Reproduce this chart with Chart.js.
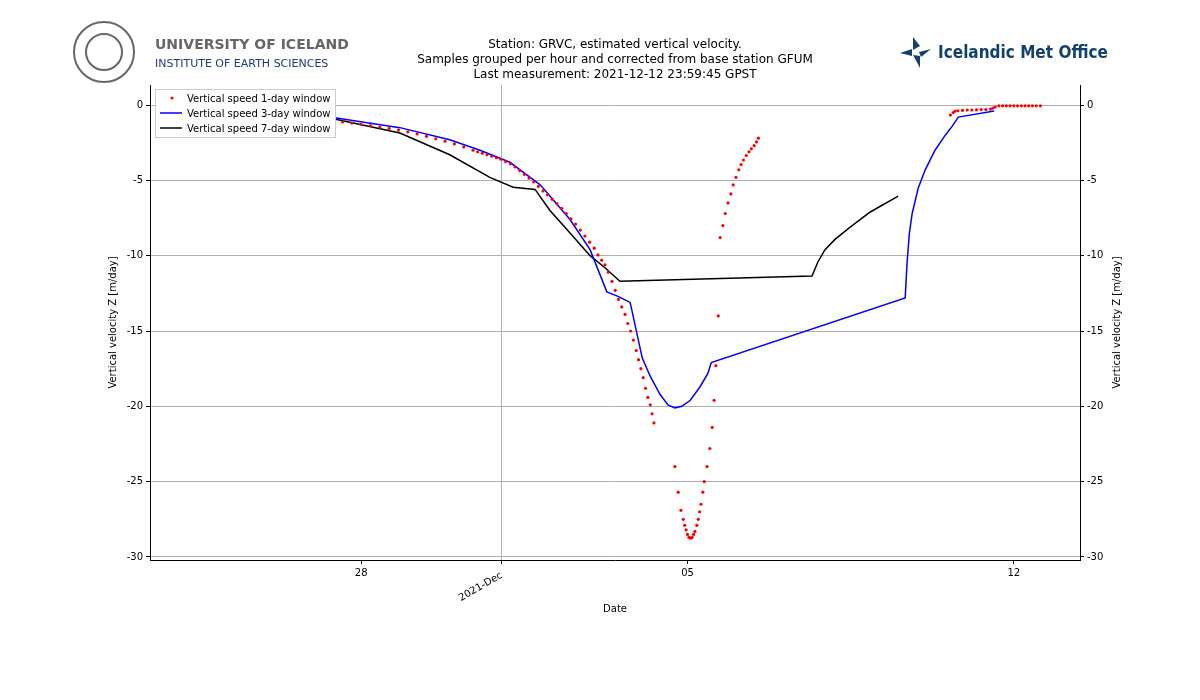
<!DOCTYPE html>
<html>
<head>
<meta charset="utf-8">
<script src="https://cdn.jsdelivr.net/npm/chart.js@4"></script>
<style>
  body { margin: 0; background: #fff; }
  #wrap { width: 1200px; height: 700px; }
</style>
</head>
<body>
<div id="wrap"><canvas id="velChart" width="1200" height="700"></canvas></div>
<script>
// x = days since 2021-12-01 00:00, y = vertical velocity [m/day]
const day1X = [-5.4, -5.2, -5.0, -4.8, -4.6, -4.4, -4.2, -4.0, -3.8, -3.6, -3.4, -3.2, -3.0, -2.8, -2.6, -2.4, -2.2, -2.0, -1.8, -1.6, -1.4, -1.2, -1.0, -0.8,
  -0.6, -0.5, -0.4, -0.3, -0.2, -0.1, 0.0, 0.1, 0.2, 0.3, 0.4, 0.5, 0.6, 0.7, 0.8, 0.9, 1.0, 1.1, 1.2, 1.3, 1.4, 1.5, 1.6, 1.7, 1.8, 1.9, 2.0,
  2.08, 2.16, 2.23, 2.3, 2.38, 2.45, 2.52, 2.59, 2.66, 2.72, 2.78, 2.84, 2.9, 2.95, 3.0, 3.05, 3.1, 3.15, 3.2, 3.24, 3.28,
  3.73, 3.80, 3.86, 3.91, 3.94, 3.97, 4.00, 4.03, 4.07, 4.10, 4.13, 4.16, 4.20, 4.23, 4.26, 4.29, 4.33, 4.36, 4.42, 4.48, 4.53, 4.57, 4.61, 4.66,
  4.70, 4.76, 4.81, 4.87, 4.93, 4.98, 5.04, 5.1, 5.15, 5.2, 5.26, 5.32, 5.37, 5.43, 5.48, 5.52,
  9.64, 9.7, 9.74, 9.8, 9.9, 10.0, 10.1, 10.2, 10.3, 10.4, 10.5, 10.55, 10.6, 10.68, 10.76, 10.84, 10.92, 11.0, 11.08, 11.16, 11.24, 11.32, 11.4, 11.48, 11.57];
const day1Y = [-0.5, -0.55, -0.6, -0.65, -0.7, -0.75, -0.8, -0.86, -0.95, -1.05, -1.12, -1.2, -1.28, -1.37, -1.46, -1.55, -1.66, -1.78, -1.92, -2.08, -2.24, -2.4, -2.58, -2.78,
  -3.0, -3.1, -3.2, -3.3, -3.4, -3.5, -3.6, -3.75, -3.9, -4.1, -4.35, -4.6, -4.85, -5.1, -5.4, -5.7, -5.95, -6.25, -6.55, -6.85, -7.2, -7.55, -7.9, -8.3, -8.7, -9.1, -9.5,
  -9.95, -10.3, -10.6, -11.1, -11.7, -12.3, -12.9, -13.4, -13.9, -14.5, -15.0, -15.6, -16.3, -16.9, -17.5, -18.1, -18.8, -19.4, -19.9, -20.5, -21.1,
  -24.0, -25.7, -26.9, -27.5, -27.9, -28.2, -28.5, -28.7, -28.75, -28.7, -28.5, -28.3, -27.9, -27.5, -27.0, -26.5, -25.7, -25.0, -24.0, -22.8, -21.4, -19.6, -17.3, -14.0,
  -8.8, -8.0, -7.2, -6.5, -5.9, -5.3, -4.8, -4.3, -3.95, -3.65, -3.35, -3.1, -2.9, -2.7, -2.45, -2.2,
  -0.66, -0.5, -0.4, -0.38, -0.35, -0.33, -0.33, -0.32, -0.3, -0.3, -0.27, -0.2, -0.13, -0.05, -0.05, -0.05, -0.05, -0.05, -0.05, -0.05, -0.05, -0.05, -0.05, -0.05, -0.05];

const day3X = [-5.4, -3.67, -2.17, -1.1, -0.45, 0.19, 0.84, 1.48, 1.91, 2.27, 2.51, 2.77, 3.03, 3.20, 3.41, 3.58, 3.73, 3.88, 4.06, 4.27, 4.44, 4.51,
  8.67, 8.71, 8.76, 8.82, 8.95, 9.10, 9.31, 9.53, 9.68, 9.81, 10.58];
const day3Y = [-0.6, -0.8, -1.5, -2.3, -3.0, -3.8, -5.3, -7.6, -9.6, -12.4, -12.7, -13.1, -16.8, -18.0, -19.2, -19.9, -20.1, -20.0, -19.6, -18.7, -17.8, -17.1,
  -12.8, -10.5, -8.5, -7.2, -5.5, -4.3, -3.0, -2.0, -1.4, -0.8, -0.4];

const day7X = [-5.4, -3.67, -2.17, -1.1, -0.24, 0.26, 0.73, 1.05, 1.48, 1.91, 2.23, 2.55, 6.67, 6.80, 6.95, 7.17, 7.49, 7.92, 8.52];
const day7Y = [-0.6, -0.86, -1.86, -3.3, -4.8, -5.45, -5.6, -7.0, -8.5, -10.0, -10.8, -11.7, -11.35, -10.4, -9.6, -8.9, -8.1, -7.1, -6.05];

const xTicks = [-3, 0, 4, 11];
const xTickLabels = ['28', '', '05', '12'];
const yTicks = [0, -5, -10, -15, -20, -25, -30];
const titleLines = ['Station: GRVC, estimated vertical velocity.',
  'Samples grouped per hour and corrected from base station GFUM',
  'Last measurement: 2021-12-12 23:59:45 GPST'];
const legendLabels = ['Vertical speed 1-day window', 'Vertical speed 3-day window', 'Vertical speed 7-day window'];

const pts = (xs, ys) => xs.map((x, i) => ({ x: x, y: ys[i] }));
const font = { family: 'DejaVu Sans', size: 10 };

const headerPlugin = {
  id: 'header',
  afterDraw(chart) {
    const c = chart.ctx;
    const a = chart.chartArea;
    c.save();
    c.fillStyle = '#000';
    c.font = '12px DejaVu Sans';
    c.textAlign = 'center';
    titleLines.forEach((t, i) => c.fillText(t, (a.left + a.right) / 2, 48 + i * 15));
    // axis titles
    c.font = '10px DejaVu Sans';
    c.fillText('Date', (a.left + a.right) / 2, 612);
    c.save(); c.translate(116, (a.top + a.bottom) / 2); c.rotate(-Math.PI / 2); c.fillText('Vertical velocity Z [m/day]', 0, 0); c.restore();
    c.save(); c.translate(1120, (a.top + a.bottom) / 2); c.rotate(-Math.PI / 2); c.fillText('Vertical velocity Z [m/day]', 0, 0); c.restore();
    // rotated month label
    const xs = chart.scales.x;
    c.save();
    c.translate(xs.getPixelForValue(0) - 2, a.bottom + 10);
    c.rotate(-30 * Math.PI / 180);
    c.textAlign = 'right';
    c.fillText('2021-Dec', 0, 8);
    c.restore();
    // legend
    const colors = ['#ff0000', '#0000ff', '#000000'];
    c.fillStyle = '#fff'; c.strokeStyle = '#cccccc'; c.lineWidth = 1;
    c.fillRect(155, 89, 180, 48); c.strokeRect(155.5, 89.5, 180, 48);
    c.textAlign = 'left';
    legendLabels.forEach((t, i) => {
      const y = 98 + i * 15;
      if (i === 0) {
        c.fillStyle = colors[0];
        c.beginPath(); c.arc(172, y, 1.6, 0, 2 * Math.PI); c.fill();
      } else {
        c.strokeStyle = colors[i]; c.lineWidth = 1.5;
        c.beginPath(); c.moveTo(160, y); c.lineTo(182, y); c.stroke();
      }
      c.fillStyle = '#000';
      c.fillText(t, 187, y + 3.5);
    });
    // university logo
    c.strokeStyle = '#666'; c.lineWidth = 2;
    c.beginPath(); c.arc(104, 52, 30, 0, 2 * Math.PI); c.stroke();
    c.beginPath(); c.arc(104, 52, 18, 0, 2 * Math.PI); c.stroke();
    c.fillStyle = '#666'; c.font = 'bold 14px DejaVu Sans';
    c.fillText('UNIVERSITY OF ICELAND', 155, 49);
    c.fillStyle = '#1f3d7a'; c.font = '11px DejaVu Sans';
    c.fillText('INSTITUTE OF EARTH SCIENCES', 155, 67);
    // met office logo
    c.fillStyle = '#14406e';
    c.beginPath(); c.moveTo(913, 37); c.lineTo(920, 46); c.lineTo(913, 50); c.fill();
    c.beginPath(); c.moveTo(900, 53); c.lineTo(912, 49); c.lineTo(912, 56); c.fill();
    c.beginPath(); c.moveTo(919, 52); c.lineTo(931, 49); c.lineTo(921, 57); c.fill();
    c.beginPath(); c.moveTo(913, 55); c.lineTo(920, 56); c.lineTo(920, 68); c.fill();
    c.font = 'bold 17px "Liberation Sans Narrow", "DejaVu Sans Condensed", sans-serif';
    c.fillText('Icelandic Met Office', 938, 58);
    c.restore();
  }
};

new Chart(document.getElementById('velChart').getContext('2d'), {
  type: 'scatter',
  data: {
    datasets: [
      { label: legendLabels[0], data: pts(day1X, day1Y), backgroundColor: '#ff0000', borderColor: '#ff0000', borderWidth: 0, pointRadius: 1.6, showLine: false },
      { label: legendLabels[1], data: pts(day3X, day3Y), borderColor: '#0000ff', borderWidth: 1.5, pointRadius: 0, showLine: true },
      { label: legendLabels[2], data: pts(day7X, day7Y), borderColor: '#000000', borderWidth: 1.5, pointRadius: 0, showLine: true }
    ]
  },
  options: {
    responsive: false,
    animation: false,
    layout: { padding: { top: 85, right: 0, left: 0, bottom: 0 } },
    plugins: { legend: { display: false }, tooltip: { enabled: false } },
    scales: {
      x: {
        type: 'linear', min: -7.53, max: 12.42,
        afterBuildTicks: s => { s.ticks = xTicks.map(v => ({ value: v })); },
        afterFit: s => { s.height = 140; },
        ticks: { font: font, color: '#000', maxRotation: 0, autoSkip: false, callback: v => xTickLabels[xTicks.indexOf(v)] },
        grid: { color: ctx => ctx.tick && ctx.tick.value === 0 ? '#b0b0b0' : 'rgba(0,0,0,0)', tickColor: '#000', tickLength: 4 },
        border: { color: '#000' }
      },
      y: {
        min: -30.2, max: 1.33,
        afterBuildTicks: s => { s.ticks = yTicks.map(v => ({ value: v })); },
        afterFit: s => { s.width = 150; },
        ticks: { font: font, color: '#000' },
        grid: { color: '#b0b0b0', tickColor: '#000', tickLength: 4 },
        border: { color: '#000' }
      },
      y1: {
        position: 'right', min: -30.2, max: 1.33,
        afterBuildTicks: s => { s.ticks = yTicks.map(v => ({ value: v })); },
        afterFit: s => { s.width = 120; },
        ticks: { font: font, color: '#000' },
        grid: { drawOnChartArea: false, tickColor: '#000', tickLength: 4 },
        border: { color: '#000' }
      }
    }
  },
  plugins: [headerPlugin]
});
</script>
</body>
</html>
